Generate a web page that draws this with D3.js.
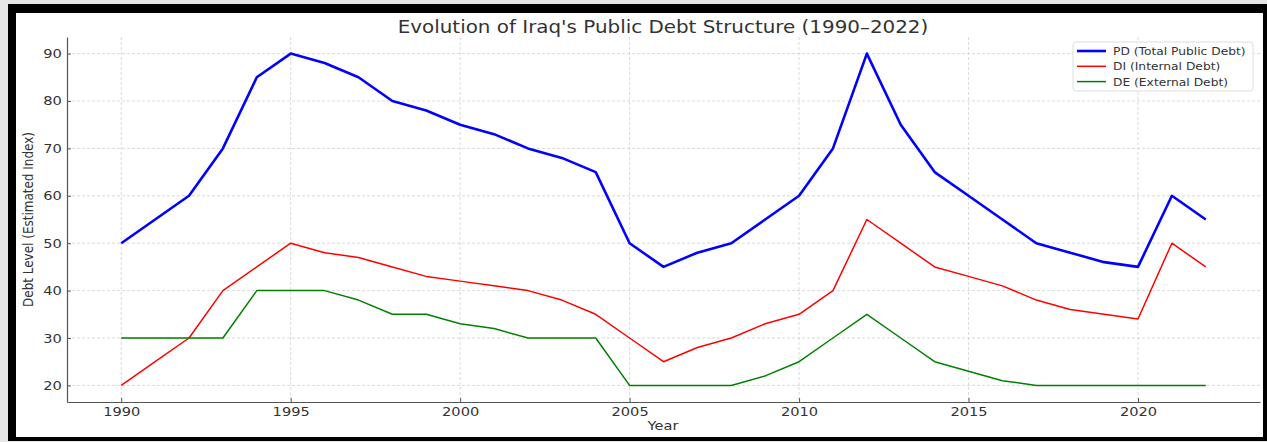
<!DOCTYPE html>
<html>
<head>
<meta charset="UTF-8">
<style>
body { margin: 0; background: #e6e6e6; }
text { font-family: "DejaVu Sans", sans-serif; }
.grid line { stroke: #d0d0d0; stroke-dasharray: 3,2; stroke-width: 0.8; }
.line { fill: none; }
</style>
</head>
<body>
<svg width="1267" height="442"></svg>
<script src="https://cdn.jsdelivr.net/npm/d3@7"></script>
<script>
var years = d3.range(1990, 2023);
var pd = [50,55,60,70,85,90,88,85,80,78,75,73,70,68,65,50,45,48,50,55,60,70,90,75,65,60,55,50,48,46,45,60,55];
var di = [20,25,30,40,45,50,48,47,45,43,42,41,40,38,35,30,25,28,30,33,35,40,55,50,45,43,41,38,36,35,34,50,45];
var de = [30,30,30,30,40,40,40,38,35,35,33,32,30,30,30,20,20,20,20,22,25,30,35,30,25,23,21,20,20,20,20,20,20];
var seriesNames = ["PD (Total Public Debt)", "DI (Internal Debt)", "DE (External Debt)"];
var colors = ["#0000ff", "#ff0000", "#008000"];
var widths = [2.6, 1.5, 1.5];
var xTicks = [1990, 1995, 2000, 2005, 2010, 2015, 2020];
var yTicks = [20, 30, 40, 50, 60, 70, 80, 90];

// the original image is stretched a bit horizontally
var sx = 1.17;

var svg = d3.select("svg");

// frame
svg.append("rect").attr("x", 8).attr("y", 4).attr("width", 1259).attr("height", 437).attr("fill", "#000");
svg.append("rect").attr("x", 16).attr("y", 13).attr("width", 1247).attr("height", 424).attr("fill", "#fff");

var margin = {left: 67, right: 1260, top: 37, bottom: 402};
var x = d3.scaleLinear().domain([1988.4, 2023.6]).range([margin.left, margin.right]);
var y = d3.scaleLinear().domain([16.5, 93.5]).range([margin.bottom, margin.top]);

var grid = svg.append("g").attr("class", "grid");
grid.selectAll(".gx").data(xTicks).enter().append("line")
    .attr("x1", function(d) { return x(d); }).attr("x2", function(d) { return x(d); })
    .attr("y1", margin.top).attr("y2", margin.bottom);
grid.selectAll(".gy").data(yTicks).enter().append("line")
    .attr("y1", function(d) { return y(d); }).attr("y2", function(d) { return y(d); })
    .attr("x1", margin.left).attr("x2", margin.right);

var xAxis = svg.append("g")
    .attr("transform", "translate(0," + margin.bottom + ")")
    .call(d3.axisBottom(x).tickValues(xTicks).tickFormat(d3.format("d")).tickSizeInner(-4).tickSizeOuter(0).tickPadding(5));
var yAxis = svg.append("g")
    .attr("transform", "translate(" + margin.left + ",0)")
    .call(d3.axisLeft(y).tickValues(yTicks).tickSizeInner(-4).tickSizeOuter(0).tickPadding(4.5));
[xAxis, yAxis].forEach(function(a) {
  a.select(".domain").attr("stroke", "#555").attr("stroke-width", 1.2);
  a.selectAll(".tick line").attr("stroke", "#555");
  a.selectAll(".tick text").attr("fill", "#333")
      .attr("transform", "scale(" + sx + ",1)")
      .style("font-size", "12.5px").style("font-family", "DejaVu Sans");
});

var line = d3.line()
    .x(function(d, i) { return x(years[i]); })
    .y(function(d) { return y(d); });

[pd, di, de].forEach(function(s, k) {
  svg.append("path").attr("class", "line")
      .attr("d", line(s))
      .attr("stroke", colors[k])
      .attr("stroke-width", widths[k])
      .attr("stroke-linejoin", "round");
});

svg.append("text").attr("transform", "translate(663,32.5) scale(" + sx + ",1)").attr("text-anchor", "middle")
    .attr("fill", "#333").style("font-size", "17px")
    .text("Evolution of Iraq's Public Debt Structure (1990\u20132022)");
svg.append("text").attr("transform", "translate(663,430) scale(" + sx + ",1)").attr("text-anchor", "middle")
    .attr("fill", "#333").style("font-size", "12.5px").text("Year");
svg.append("text")
    .attr("transform", "translate(33," + ((margin.top + margin.bottom) / 2) + ") scale(" + sx + ",1) rotate(-90)")
    .attr("text-anchor", "middle").attr("fill", "#333").style("font-size", "12px")
    .text("Debt Level (Estimated Index)");

// legend
var lg = svg.append("g").attr("transform", "translate(1073,42)");
lg.append("rect").attr("width", 180).attr("height", 49).attr("rx", 3)
    .attr("fill", "#fff").attr("fill-opacity", 0.8).attr("stroke", "#ddd");
seriesNames.forEach(function(n, k) {
  var yy = 9 + k * 15.3;
  lg.append("line").attr("x1", 4).attr("x2", 33).attr("y1", yy).attr("y2", yy)
      .attr("stroke", colors[k]).attr("stroke-width", widths[k]);
  lg.append("text").attr("transform", "translate(40," + (yy + 4) + ") scale(" + sx + ",1)").attr("fill", "#333")
      .style("font-size", "10.5px").text(n);
});
</script>
</body>
</html>
